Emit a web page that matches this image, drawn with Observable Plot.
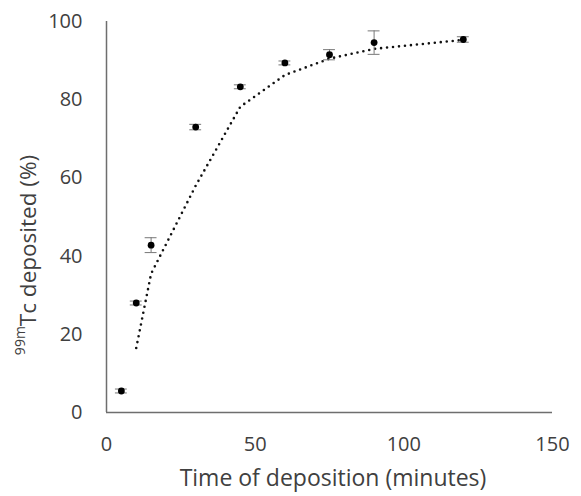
<!DOCTYPE html>
<html>
<head>
<meta charset="utf-8">
<script src="https://cdn.jsdelivr.net/npm/d3@7"></script>
<script src="https://cdn.jsdelivr.net/npm/@observablehq/plot@0.6"></script>
<style>
  html, body { margin: 0; padding: 0; background: #fff; }
  #chart { width: 581px; height: 496px; }
</style>
</head>
<body>
<div id="chart"></div>
<script>
// Measured data
const times = [5, 10, 15, 30, 45, 60, 75, 90, 120];
const deposited = [5.5, 28, 42.8, 73, 83.3, 89.4, 91.5, 94.6, 95.4];
const errors = [0.5, 0.5, 1.9, 0.7, 0.5, 0.5, 1.3, 3.0, 0.7];
// Dotted trend line
const trendTimes = [10, 15, 30, 45, 60, 75, 90, 120];
const trendValues = [16.5, 35.5, 58, 78.2, 86.3, 90.5, 93, 95.3];
const xTicks = [0, 50, 100, 150];
const yTicks = [0, 20, 40, 60, 80, 100];

const points = times.map((t, i) => ({t, v: deposited[i], e: errors[i]}));
const trend = trendTimes.map((t, i) => ({t, v: trendValues[i]}));

const font = "'Open Sans', sans-serif";
const textColor = "#404040";
const axisColor = "#6e6e6e";
const capHalf = 2;

const chart = Plot.plot({
  width: 581,
  height: 496,
  marginLeft: 106,
  marginRight: 29,
  marginTop: 21,
  marginBottom: 84,
  style: {fontFamily: font, fontSize: "20px", color: textColor, background: "#fff", overflow: "visible"},
  x: {domain: [0, 150], label: null},
  y: {domain: [0, 100], label: null},
  marks: [
    Plot.axisX({ticks: xTicks, tickSize: 0, tickPadding: 24, fontSize: 20, label: null}),
    Plot.axisY({ticks: yTicks, tickSize: 0, tickPadding: 24, fontSize: 20, label: null}),
    Plot.ruleY([0], {stroke: axisColor, strokeWidth: 1.5}),
    Plot.ruleX([0], {stroke: axisColor, strokeWidth: 1.5}),
    Plot.line(trend, {x: "t", y: "v", stroke: "#111", strokeWidth: 2.6,
      strokeDasharray: "0,6", strokeLinecap: "round"}),
    Plot.ruleX(points, {x: "t", y1: d => d.v - d.e, y2: d => d.v + d.e, stroke: "#777", strokeWidth: 1}),
    Plot.ruleY(points, {y: d => d.v + d.e, x1: d => d.t - capHalf, x2: d => d.t + capHalf, stroke: "#777", strokeWidth: 1}),
    Plot.ruleY(points, {y: d => d.v - d.e, x1: d => d.t - capHalf, x2: d => d.t + capHalf, stroke: "#777", strokeWidth: 1}),
    Plot.dot(points, {x: "t", y: "v", r: 3.4, fill: "#000", stroke: "none"})
  ]
});

document.getElementById("chart").appendChild(chart);

const svg = d3.select(chart);
// x-axis title
svg.append("text")
  .attr("x", 333).attr("y", 480)
  .attr("text-anchor", "middle").attr("dominant-baseline", "middle")
  .attr("font-family", font).attr("font-size", 23).attr("fill", textColor)
  .text("Time of deposition (minutes)");
// y-axis title with superscript
const yl = svg.append("text")
  .attr("transform", "translate(27,255) rotate(-90)")
  .attr("text-anchor", "middle").attr("dominant-baseline", "middle")
  .attr("font-family", font).attr("font-size", 22.5).attr("fill", textColor);
yl.append("tspan").attr("font-size", 14).attr("dy", "-0.4em").text("99m");
yl.append("tspan").attr("dy", "0.4em").text("Tc deposited (%)");
</script>
</body>
</html>
